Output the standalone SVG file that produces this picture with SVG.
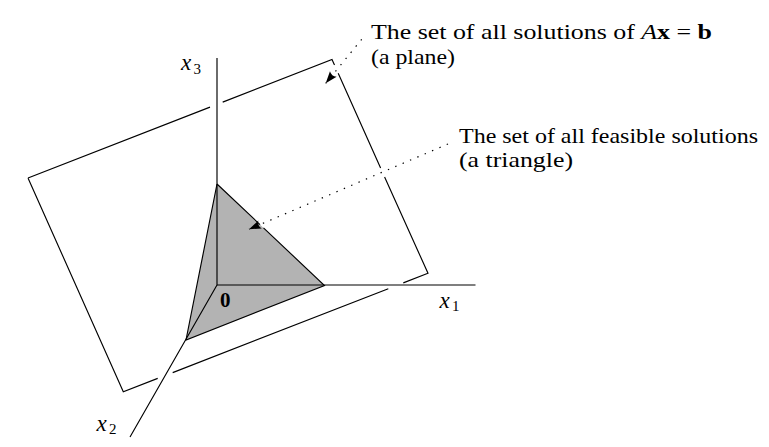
<svg xmlns="http://www.w3.org/2000/svg" width="769" height="447" viewBox="0 0 769 447">
<style>
.ln{stroke:#000;stroke-width:1.15;fill:none;stroke-linecap:butt;stroke-linejoin:miter}
.dot{stroke:#000;stroke-width:1.2;fill:none;stroke-dasharray:1.4 6.6}
.t{font-family:"Liberation Serif","Times New Roman",serif;font-size:21px;fill:#000}
.mi{font-family:"Liberation Serif","Times New Roman",serif;font-style:italic;font-size:23px;fill:#000}
.sub{font-family:"Liberation Serif","Times New Roman",serif;font-size:15px;fill:#000}
.bf{font-weight:bold}
</style>
<defs>
<marker id="ah" markerUnits="userSpaceOnUse" markerWidth="15" markerHeight="10" viewBox="-13 -5 15 10" refX="0" refY="0" orient="auto">
<path d="M0,0 L-12,-4.3 Q-9,0 -12,4.3 Z" fill="#000"/>
</marker>
</defs>
<rect width="769" height="447" fill="#fff"/>
<g id="plane">
<path class="ln" d="M28,178 L210,107.1 M222.7,102.1 L332,59.5 L334.5,65 M338.2,73.3 L380.6,168 M384.6,177 L428,273.3 L403.3,282.9 M388.3,288.7 L172.7,372.6 M157.7,378.4 L123.3,391.7 L28,178"/>
</g>
<g id="triangle">
<polygon points="217,184 324.5,285.5 186,340" fill="#b3b3b3" stroke="none"/>
<path class="ln" d="M217,184 L260,224.6 M263.5,227.9 L324.5,285.5 L186,340 L217,184"/>
</g>
<g id="axes">
<path class="ln" d="M217,58 L217,285 M217,285 L475.5,285 M217,285 L130,437"/>
</g>
<g id="labels">
<text class="mi" x="181" y="70">x</text><text class="sub" x="193.5" y="73.5">3</text>
<text class="mi" x="439.5" y="308">x</text><text class="sub" x="452" y="311">1</text>
<text class="mi" x="96.5" y="431">x</text><text class="sub" x="109" y="434">2</text>
<text class="t bf" x="220" y="306.5">0</text>
</g>
<g id="note-plane">
<text class="t" x="371" y="39" textLength="341" lengthAdjust="spacingAndGlyphs">The set of all solutions of <tspan font-style="italic">A</tspan><tspan font-weight="bold">x</tspan> = <tspan font-weight="bold">b</tspan></text>
<text class="t" x="371" y="64" textLength="84" lengthAdjust="spacingAndGlyphs">(a plane)</text>
</g>
<g id="note-triangle">
<text class="t" x="459" y="142.5" textLength="299" lengthAdjust="spacingAndGlyphs">The set of all feasible solutions</text>
<text class="t" x="459" y="167" textLength="114" lengthAdjust="spacingAndGlyphs">(a triangle)</text>
</g>
<g id="connectors">
<path class="dot" d="M361.7,39.3 L325.7,83.3" marker-end="url(#ah)"/>
<path class="dot" d="M448,144 L249,229.3" marker-end="url(#ah)"/>
</g>
</svg>
